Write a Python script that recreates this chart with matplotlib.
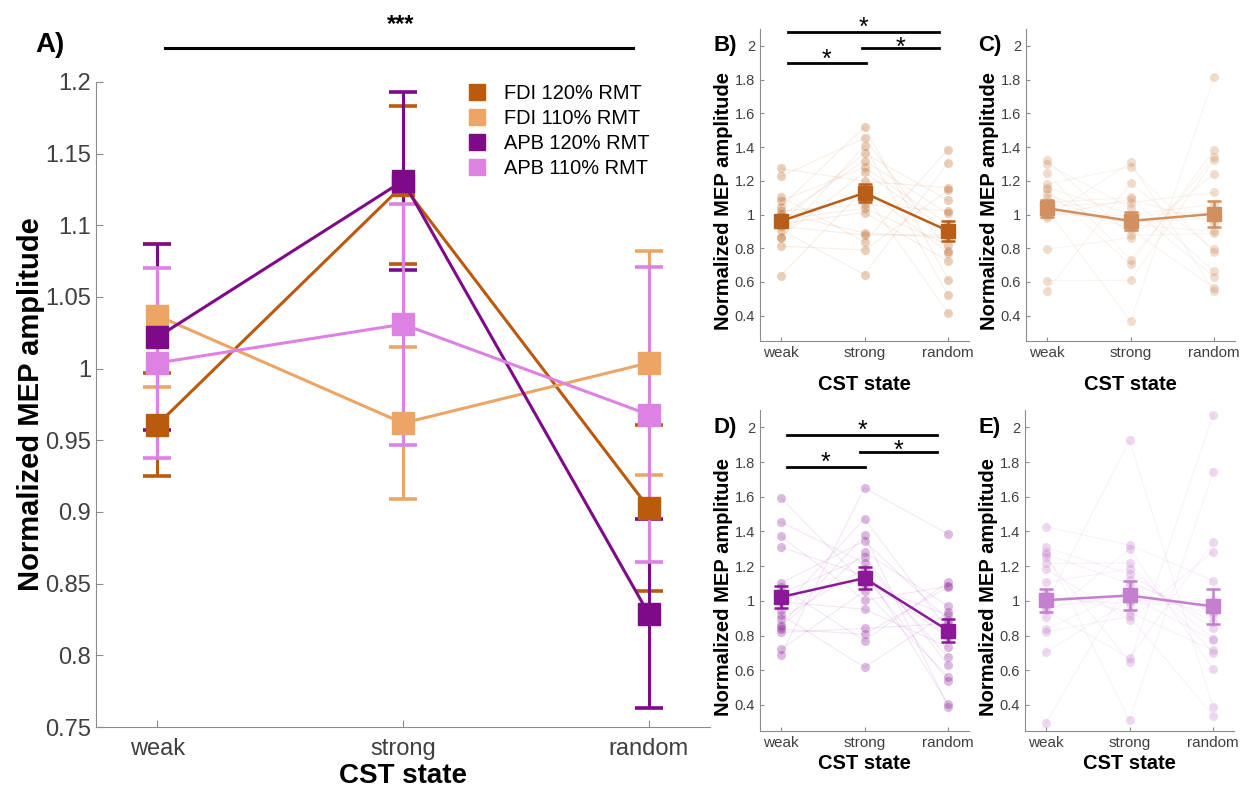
import matplotlib
matplotlib.use("Agg")
import matplotlib.pyplot as plt
from matplotlib.lines import Line2D
import numpy as np

W, H = 1243, 789
plt.rcParams['font.family'] = ['Liberation Sans', 'DejaVu Sans']

# conditions and group means (panel A)
states = ["weak", "strong", "random"]
labels = ["FDI 120% RMT", "FDI 110% RMT", "APB 120% RMT", "APB 110% RMT"]
colors = ["#BA5A0C", "#EDA566", "#7E0A8A", "#DD82E3"]
means = [[0.961, 1.128, 0.903],
         [1.037, 0.962, 1.004],
         [1.022, 1.131, 0.829],
         [1.004, 1.031, 0.968]]
sems = [[0.036, 0.055, 0.058],
        [0.050, 0.053, 0.078],
        [0.065, 0.062, 0.066],
        [0.066, 0.084, 0.103]]

# single subject values per condition (panels B-E)
fdi120_weak = [1.273, 1.226, 1.105, 1.081, 1.047, 1.021, 1.005, 0.982, 0.956, 0.946, 0.908, 0.868, 0.859, 0.813, 0.638, 0.990, 0.930, 0.970]
fdi120_strong = [1.196, 1.454, 0.839, 1.279, 1.518, 1.061, 0.892, 1.121, 1.363, 1.011, 0.644, 1.250, 1.408, 0.789, 1.154, 1.319, 0.878, 1.037]
fdi120_random = [1.160, 0.783, 1.385, 0.942, 0.614, 1.021, 0.862, 0.416, 1.085, 0.724, 1.307, 0.902, 0.521, 1.144, 0.773, 1.007, 0.880, 0.820]

fdi110_weak = [1.323, 1.299, 1.244, 1.180, 1.150, 1.071, 1.031, 1.001, 0.982, 0.793, 0.608, 0.549, 1.100, 1.050, 1.020, 0.990, 1.160, 1.120]
fdi110_strong = [0.876, 1.041, 0.733, 1.283, 0.704, 1.101, 0.366, 0.992, 1.309, 0.862, 0.610, 1.186, 0.912, 1.071, 0.952, 1.090, 1.000, 0.940]
fdi110_random = [0.888, 0.630, 1.339, 0.777, 1.385, 0.664, 1.815, 1.020, 0.545, 1.240, 1.323, 0.793, 0.565, 1.131, 0.980, 0.950, 1.060, 0.900]

apb120_weak = [1.594, 1.454, 1.372, 1.310, 1.103, 1.080, 1.042, 0.994, 0.950, 0.898, 0.850, 0.837, 0.818, 0.720, 0.687, 1.020, 0.920, 0.860]
apb120_strong = [1.099, 1.218, 1.004, 1.147, 1.345, 0.770, 1.253, 0.952, 1.473, 1.186, 1.281, 0.808, 0.841, 1.057, 1.651, 1.130, 0.617, 1.377]
apb120_random = [0.917, 0.674, 1.084, 0.540, 0.889, 1.109, 0.630, 0.735, 0.831, 0.406, 0.969, 1.080, 0.870, 0.563, 1.385, 0.790, 0.933, 0.390]

apb110_weak = [1.428, 1.308, 1.283, 1.270, 1.216, 1.184, 1.107, 1.012, 0.964, 0.945, 0.907, 0.836, 0.821, 0.706, 0.295, 1.050, 0.980, 1.250]
apb110_strong = [1.321, 1.155, 0.312, 1.098, 1.218, 0.887, 1.184, 0.983, 1.031, 0.671, 1.298, 1.060, 0.910, 1.000, 1.120, 0.935, 1.925, 0.648]
apb110_random = [1.117, 0.843, 1.744, 0.935, 0.702, 1.283, 0.782, 0.983, 0.773, 1.337, 0.606, 0.920, 0.339, 1.000, 0.880, 0.715, 0.390, 2.073]

subjects = [(fdi120_weak, fdi120_strong, fdi120_random),
            (fdi110_weak, fdi110_strong, fdi110_random),
            (apb120_weak, apb120_strong, apb120_random),
            (apb110_weak, apb110_strong, apb110_random)]
small_colors = ["#B85E18", "#D0905F", "#8B1898", "#C47FCE"]
small_letters = ["B)", "C)", "D)", "E)"]

x = np.arange(1, 4)
spine_c = "#8c8c8c"
tick_c = "#404040"


def px_axes(l, t, r, b):
    return [l / W, 1 - b / H, (r - l) / W, (b - t) / H]


def style_axes(ax, fs):
    for s in ["top", "right"]:
        ax.spines[s].set_visible(False)
    for s in ["left", "bottom"]:
        ax.spines[s].set_color(spine_c)
    ax.tick_params(direction="in", colors=spine_c, labelcolor=tick_c, labelsize=fs, length=5)
    ax.set_xticks(x)
    ax.set_xticklabels(states)
    ax.set_xlim(0.75, 3.25)


def sig_bar(ax, x1, x2, y, text, up_px, fs=18):
    # line plus a star whose centre sits up_px pixels above it
    ax.plot([x1, x2], [y, y], color="k", lw=2, clip_on=False)
    dy = (up_px - 0.58 * fs * 100 / 72) * 72 / 100
    ax.annotate(text, ((x1 + x2) / 2, y), xytext=(0, dy), textcoords="offset points",
                ha="center", va="baseline", fontsize=fs, annotation_clip=False)


fig = plt.figure(figsize=(W / 100, H / 100), dpi=100)

# panel A: group means
axA = fig.add_axes(px_axes(96, 82, 710, 727))
for i in range(4):
    axA.errorbar(x, means[i], yerr=sems[i], color=colors[i], marker="s", ms=16,
                 lw=2.2, capsize=10, capthick=2.6)
style_axes(axA, 17)
axA.set_ylim(0.75, 1.2)
axA.set_yticks([0.75, 0.8, 0.85, 0.9, 0.95, 1, 1.05, 1.1, 1.15, 1.2])
axA.set_yticklabels(["0.75", "0.8", "0.85", "0.9", "0.95", "1", "1.05", "1.1", "1.15", "1.2"])
axA.tick_params(axis="x", pad=8)
axA.set_xlabel("CST state", fontsize=20, weight="bold", labelpad=2)
axA.set_ylabel("Normalized MEP amplitude", fontsize=21, weight="bold", labelpad=0)
axA.plot([1.03, 2.935], [1.2237, 1.2237], color="k", lw=2.2, clip_on=False)
axA.text(1.99, 1.2404, "***", ha="center", va="center", fontsize=17, weight="bold", clip_on=False)

handles = [Line2D([], [], ls="none", marker="s", ms=11, color=c) for c in colors]
axA.legend(handles, labels, loc="upper left", bbox_to_anchor=(468 / W, 1 - 84 / H),
           bbox_transform=fig.transFigure, frameon=False, fontsize=14.4,
           handlelength=0.95, handletextpad=0.85, labelspacing=0.3,
           borderpad=0, borderaxespad=0)
fig.text(50 / W, 1 - 45 / H, "A)", fontsize=20, weight="bold", ha="center", va="center")

# panels B-E: single subjects
boxes = [(760, 29, 969, 341), (1026, 29, 1235, 341), (760, 410, 969, 731), (1025, 410, 1234, 731)]
letter_pos = [(725, 45), (990, 46), (725, 427), (990, 427)]
xlabel_pad = [11, 11, 3, 3]
for k in range(4):
    ax = fig.add_axes(px_axes(*boxes[k]))
    c = small_colors[k]
    w, s, r = subjects[k]
    for j in range(len(w)):
        ax.plot(x, [w[j], s[j], r[j]], color=c, alpha=0.1, lw=0.8)
    for xi, vals in zip(x, (w, s, r)):
        ax.plot([xi] * len(vals), vals, "o", color=c, alpha=0.3, ms=6.5, mec="none")
    ax.errorbar(x, means[k], yerr=sems[k], color=c, marker="s", ms=9.5,
                lw=1.8, capsize=5, capthick=1.8)
    style_axes(ax, 11)
    ax.tick_params(axis="y", labelsize=10.5)
    ax.set_ylim(0.25, 2.1)
    ax.set_yticks([0.4, 0.6, 0.8, 1, 1.2, 1.4, 1.6, 1.8, 2])
    ax.set_yticklabels(["0.4", "0.6", "0.8", "1", "1.2", "1.4", "1.6", "1.8", "2"])
    ax.tick_params(length=3)
    ax.set_xlabel("CST state", fontsize=14.5, weight="bold", labelpad=xlabel_pad[k])
    ax.set_ylabel("Normalized MEP amplitude", fontsize=14.5, weight="bold")
    hpx = boxes[k][3] - boxes[k][1]
    ax.yaxis.set_label_coords(-27 / 209, 0.5 - 16 / hpx)
    lx, ly = letter_pos[k]
    fig.text(lx / W, 1 - ly / H, small_letters[k], fontsize=16, weight="bold", ha="center", va="center")
    if k == 0:
        sig_bar(ax, 1.08, 2.89, 2.083, "*", 12)
        sig_bar(ax, 1.97, 2.89, 1.986, "*", 8)
        sig_bar(ax, 1.08, 2.02, 1.897, "*", 11)
    if k == 2:
        sig_bar(ax, 1.07, 2.87, 1.958, "*", 11)
        sig_bar(ax, 1.95, 2.87, 1.856, "*", 9)
        sig_bar(ax, 1.07, 2.00, 1.774, "*", 11)

fig.savefig("out.png", dpi=100)
